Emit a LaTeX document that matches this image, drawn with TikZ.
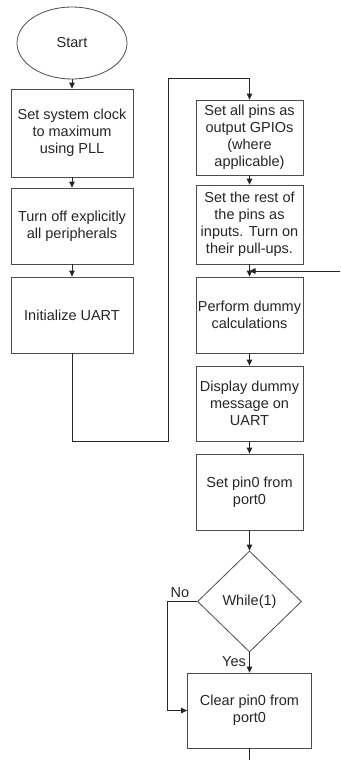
\documentclass[tikz,border=0pt]{standalone}
\usepackage{fontspec}
\setmainfont{Liberation Sans}
\usetikzlibrary{arrows.meta,shapes.geometric,calc}
\begin{document}
\begin{tikzpicture}[x=1pt,y=-1pt,
  every node/.style={font=\fontsize{14.5}{17}\selectfont, text=black!85},
  box/.style={draw=black!70, line width=0.8pt, align=center, inner sep=0pt},
  leftbox/.style={box, minimum width=122pt},
  rightbox/.style={box, minimum width=107pt},
  flow/.style={draw=black!85, line width=0.8pt, -{Triangle[length=6pt,width=5.5pt]}},
  plain/.style={draw=black!85, line width=0.8pt}]
\useasboundingbox (0,0) rectangle (340,760);

% left column
\node[ellipse, draw=black!70, line width=0.8pt, minimum width=110pt, minimum height=72pt, inner sep=0pt] (start) at (72,43) {Start};
\node[leftbox, minimum height=88pt] (b1) at (72,133) {Set system clock\\to maximum\\using PLL};
\node[leftbox, minimum height=76pt] (b2) at (72,226) {Turn off explicitly\\all peripherals};
\node[leftbox, minimum height=76pt] (b3) at (72,315) {Initialize UART};

% right column
\node[rightbox, minimum height=75pt] (b4) at (249.5,137.5) {Set all pins as\\output GPIOs\\(where\\applicable)};
\node[rightbox, minimum height=79pt] (b5) at (249.5,224.5) {Set the rest of\\the pins as\\inputs. Turn on\\their pull-ups.};
\node[rightbox, minimum height=76pt] (b6) at (249.5,315) {Perform dummy\\calculations};
\node[rightbox, minimum height=75pt] (b7) at (249.5,403.5) {Display dummy\\message on\\UART};
\node[rightbox, minimum height=76pt] (b8) at (249.5,492) {Set pin0 from\\port0};
\node[diamond, draw=black!70, line width=0.8pt, minimum width=104pt, minimum height=101pt, inner sep=0pt] (loop) at (249.5,601.5) {While(1)};
\node[box, minimum width=124pt, minimum height=75pt] (b9) at (249.5,710.5) {Clear pin0 from\\port0};

% connectors
\draw[flow] (start) -- (b1);
\draw[flow] (b1) -- (b2);
\draw[flow] (b2) -- (b3);
\coordinate (c1) at (72,441);
\coordinate (c2) at (168,441);
\coordinate (c3) at (168,78);
\coordinate (c4) at (249.5,78);
\draw[flow] (b3.south) -- (c1) -- (c2) -- (c3) -- (c4) -- (b4.north);
\draw[flow] (b4) -- (b5);
\draw[flow] (b5) -- (b6);
\coordinate (join) at ($(b5.south)!0.5!(b6.north)$);
\coordinate (entry) at (340,271);
\draw[flow] (entry) -- (entry -| join);
\draw[flow] (b6) -- (b7);
\draw[flow] (b7) -- (b8);
\draw[flow] (b8) -- (loop);
\draw[flow] (loop) -- (b9);
\coordinate (nobend) at (167,601.5);
\draw[flow] (loop.west) -- (nobend) |- (b9.west);
\coordinate (exit) at (249.5,760);
\draw[plain] (b9.south) -- (exit);

% branch labels
\node (no) at (180,593) {No};
\node (yes) at (234,662) {Yes};
\end{tikzpicture}
\end{document}
